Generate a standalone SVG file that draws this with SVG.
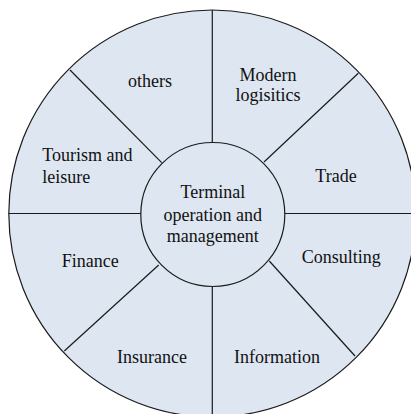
<svg xmlns="http://www.w3.org/2000/svg" width="411" height="414" viewBox="0 0 411 414">
<style>
.seg{fill:#dee6f1;stroke:#1a1a1a;stroke-width:1.2}
.ln{stroke:#1a1a1a;stroke-width:1.2;fill:none}
text{font-family:"Liberation Serif","Times New Roman",serif;font-size:18px;fill:#111}
.c{text-anchor:middle}
</style>
<rect width="411" height="414" fill="#ffffff"/>
<g id="outer"><circle class="seg" cx="212.3" cy="213.5" r="203.5"/></g>
<g id="connectors">
<line class="ln" x1="212.3" y1="10" x2="212.3" y2="143"/>
<line class="ln" x1="212.3" y1="286" x2="212.3" y2="417"/>
<line class="ln" x1="8.8" y1="213.5" x2="141" y2="213.5"/>
<line class="ln" x1="285" y1="213.5" x2="416" y2="213.5"/>
<line class="ln" x1="70" y1="70" x2="161.7" y2="162.7"/>
<line class="ln" x1="358.3" y1="73.3" x2="264" y2="162"/>
<line class="ln" x1="355" y1="356" x2="269.3" y2="261"/>
<line class="ln" x1="64.3" y1="351" x2="158.7" y2="265"/>
</g>
<g id="center"><circle class="seg" cx="212.8" cy="214.5" r="72"/>
<text class="c" x="212.8" y="198.3">Terminal</text>
<text class="c" x="212.8" y="220.5">operation and</text>
<text class="c" x="212.8" y="242">management</text></g>
<g id="others"><text class="c" x="150" y="86.7">others</text></g>
<g id="logistics"><text class="c" x="268" y="80.5">Modern</text><text class="c" x="268" y="100.5">logisitics</text></g>
<g id="tourism"><text x="42.3" y="161">Tourism and</text><text x="42.3" y="182.5">leisure</text></g>
<g id="trade"><text class="c" x="336" y="181.7">Trade</text></g>
<g id="finance"><text class="c" x="90.3" y="266.7">Finance</text></g>
<g id="consulting"><text class="c" x="341.3" y="262.5">Consulting</text></g>
<g id="insurance"><text class="c" x="152" y="362.7">Insurance</text></g>
<g id="information"><text class="c" x="277" y="362.7">Information</text></g>
</svg>
